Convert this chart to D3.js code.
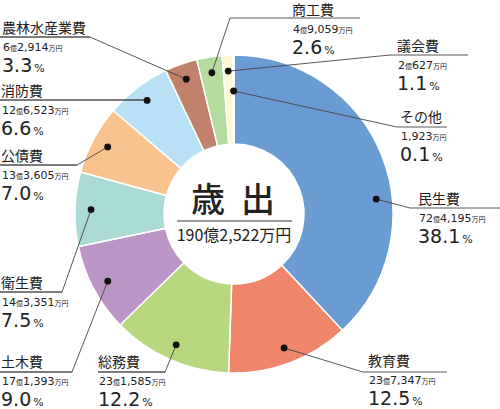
<!DOCTYPE html>
<html>
<head>
    <meta charset="utf-8">
    <title>歳出</title>
    <style>
        html, body {
            margin: 0;
            padding: 0;
            background: #fff;
        }
        svg {
            display: block;
        }
        .name {
            font-family: 'Noto Sans CJK JP', sans-serif;
            font-size: 14px;
            fill: #222;
        }
        .amount, .pct {
            font-family: 'DejaVu Sans', sans-serif;
            fill: #222;
        }
        .leader {
            stroke: #444;
            stroke-width: 0.9;
            fill: none;
        }
    </style>
</head>
<body>
    <div id="chart"></div>

    <script src="https://cdnjs.cloudflare.com/ajax/libs/d3/7.8.5/d3.min.js"></script>
    <script>
        // 歳出 内訳 (clockwise from 12 o'clock)
        const names = ['民生費', '教育費', '総務費', '土木費', '衛生費', '公債費', '消防費', '農林水産業費', '商工費', '議会費', 'その他'];
        const oku = [72, 23, 23, 17, 14, 13, 12, 6, 4, 2, 0];
        const man = [4195, 7347, 1585, 1393, 3351, 3605, 6523, 2914, 9059, 627, 1923];
        const percents = [38.1, 12.5, 12.2, 9.0, 7.5, 7.0, 6.6, 3.3, 2.6, 1.1, 0.1];
        const colors = ['#6A9BD3', '#EF856B', '#B7D77F', '#BA95C5', '#A9DAD4', '#F7C28E', '#B8E1F5', '#C0826A', '#B6DB9E', '#FDF7D5', '#E4E4E4'];

        const centerTitle = '歳出';
        const totalOku = 190;
        const totalMan = 2522;

        // label placement: text x, name baseline, underline y, underline x range, elbow x
        const labelLayout = [
            { x: 418, y: 204, ly: 208, lx1: 410, lx2: 500, ex: 410, dotAngle: 84 },
            { x: 368, y: 366, ly: 372, lx1: 363, lx2: 447, ex: 363 },
            { x: 98, y: 367, ly: 372, lx1: 98, lx2: 165, ex: 165 },
            { x: 1, y: 367, ly: 372, lx1: 0, lx2: 72, ex: 72 },
            { x: 1, y: 288, ly: 292, lx1: 0, lx2: 62, ex: 62 },
            { x: 1, y: 161, ly: 165, lx1: 0, lx2: 77, ex: 77 },
            { x: 1, y: 96, ly: 100, lx1: 0, lx2: 145, ex: 145 },
            { x: 2, y: 33, ly: 37, lx1: 0, lx2: 90, ex: 90 },
            { x: 292, y: 15, ly: 18, lx1: 230, lx2: 360, ex: 230 },
            { x: 397, y: 51, ly: 55, lx1: 390, lx2: 468, ex: 390 },
            { x: 400, y: 122, ly: 127, lx1: 397, lx2: 447, ex: 397, dotR: 123 }
        ];

        const width = 500, height = 409;
        const cx = 234, cy = 214;
        const outerR = 159, innerR = 70, dotR = 143;

        const data = names.map((n, i) => ({
            name: n,
            value: oku[i] * 10000 + man[i],
            oku: oku[i],
            man: man[i],
            pct: percents[i],
            color: colors[i],
            layout: labelLayout[i]
        }));

        const svg = d3.select('#chart')
            .append('svg')
            .attr('width', width)
            .attr('height', height);

        const pie = d3.pie()
            .sort(null)
            .value(d => d.value);

        const arc = d3.arc()
            .innerRadius(innerR)
            .outerRadius(outerR);

        const arcs = pie(data);

        const g = svg.append('g')
            .attr('transform', `translate(${cx},${cy})`);

        g.selectAll('path.slice')
            .data(arcs)
            .enter()
            .append('path')
            .attr('class', 'slice')
            .attr('d', arc)
            .attr('fill', d => d.data.color)
            .attr('stroke', '#fff')
            .attr('stroke-width', 1.5);

        // dots + leader lines
        const dotPos = (d) => {
            const lay = d.data.layout;
            const a = lay.dotAngle !== undefined ? lay.dotAngle * Math.PI / 180 : (d.startAngle + d.endAngle) / 2;
            const r = lay.dotR || dotR;
            return [cx + r * Math.sin(a), cy - r * Math.cos(a)];
        };

        svg.selectAll('polyline.leader')
            .data(arcs)
            .enter()
            .append('polyline')
            .attr('class', 'leader')
            .attr('points', d => {
                const lay = d.data.layout;
                const p = dotPos(d);
                return [[p[0], p[1]], [lay.ex, lay.ly], [lay.lx1, lay.ly], [lay.lx2, lay.ly]]
                    .map(q => q.join(',')).join(' ');
            });

        svg.selectAll('circle.dot')
            .data(arcs)
            .enter()
            .append('circle')
            .attr('class', 'dot')
            .attr('cx', d => dotPos(d)[0])
            .attr('cy', d => dotPos(d)[1])
            .attr('r', 3.4)
            .attr('fill', '#111');

        // labels
        const fmt = d3.format(',');
        const labels = svg.selectAll('g.label')
            .data(data)
            .enter()
            .append('g')
            .attr('class', 'label');

        labels.append('text')
            .attr('class', 'name')
            .attr('x', d => d.layout.x)
            .attr('y', d => d.layout.y)
            .text(d => d.name);

        const amt = labels.append('text')
            .attr('class', 'amount')
            .attr('x', d => d.layout.x + 1)
            .attr('y', d => d.layout.y + 17.5);

        amt.each(function (d) {
            const t = d3.select(this);
            if (d.oku > 0) {
                t.append('tspan').style('font-size', '11px').text(d.oku);
                t.append('tspan').style('font-family', "'Noto Sans CJK JP'").style('font-size', '7px').text('億');
            }
            t.append('tspan').style('font-size', '11px').text(fmt(d.man));
            t.append('tspan').style('font-family', "'Noto Sans CJK JP'").style('font-size', '7px').text('万円');
        });

        const pct = labels.append('text')
            .attr('class', 'pct')
            .attr('x', d => d.layout.x)
            .attr('y', d => d.layout.y + 38.5);

        pct.append('tspan')
            .style('font-size', '19px')
            .text(d => d3.format('.1f')(d.pct));
        pct.append('tspan')
            .attr('dx', 2)
            .style('font-size', '11px')
            .text('%');

        // center
        const chars = centerTitle.split('');
        svg.selectAll('text.title')
            .data(chars)
            .enter()
            .append('text')
            .attr('class', 'title')
            .attr('x', (d, i) => cx - 26 + i * 50)
            .attr('y', cy - 2)
            .attr('text-anchor', 'middle')
            .style('font-family', "'Noto Sans CJK JP', sans-serif")
            .style('font-size', '34px')
            .style('font-weight', 500)
            .style('fill', '#222')
            .text(d => d);

        svg.append('line')
            .attr('x1', cx - 57)
            .attr('x2', cx + 58)
            .attr('y1', cy + 7)
            .attr('y2', cy + 7)
            .attr('stroke', '#333')
            .attr('stroke-width', 1);

        const total = svg.append('text')
            .attr('x', cx)
            .attr('y', cy + 27)
            .attr('text-anchor', 'middle')
            .style('font-family', "'Noto Sans CJK JP', sans-serif")
            .style('font-size', '16px')
            .style('fill', '#222');
        total.append('tspan').text(totalOku);
        total.append('tspan').text('億');
        total.append('tspan').text(fmt(totalMan));
        total.append('tspan').text('万円');
    </script>
</body>
</html>
